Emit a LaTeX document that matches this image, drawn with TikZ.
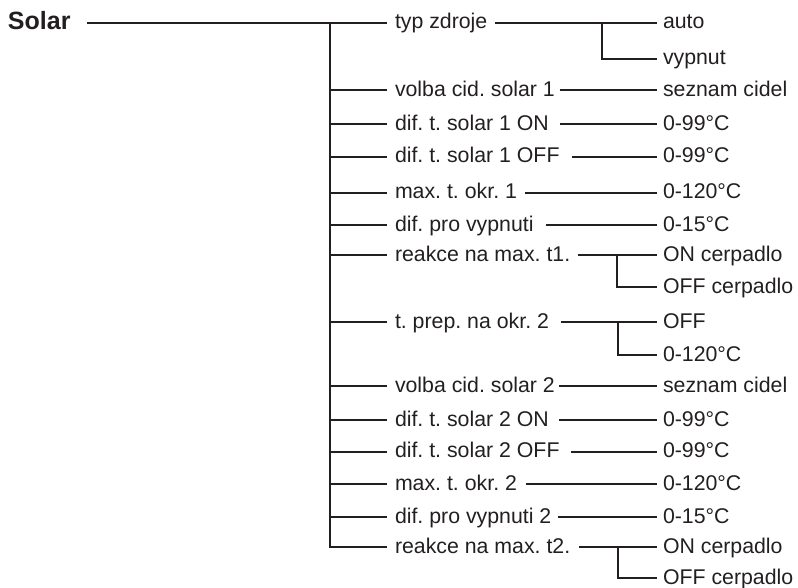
\documentclass[tikz,border=0pt]{standalone}
\usepackage{fontspec}
\setmainfont{Liberation Sans}
\frenchspacing
\definecolor{ink}{HTML}{231F20}
\begin{document}
\frenchspacing
\begin{tikzpicture}[x=1pt,y=-1pt,
  lbl/.style={anchor=west, inner sep=0pt, outer sep=0pt, text height=14.5pt, text depth=2.5pt, font=\fontsize{21.3}{24}\selectfont\frenchspacing, text=ink},
  head/.style={lbl, text height=17pt, text depth=3pt, font=\fontsize{25}{28}\selectfont\bfseries},
  ln/.style={draw=ink, line width=2pt}]
\useasboundingbox (0,0) rectangle (798,588);
% nodes
\node[head] (solar) at (8,23) {Solar};
\node[lbl] (l1)  at (395,23)    {typ zdroje};
\node[lbl] (l2)  at (395,90.5)  {volba cid. solar 1};
\node[lbl] (l3)  at (395,124.5) {dif. t. solar 1 ON};
\node[lbl] (l4)  at (395,157)   {dif. t. solar 1 OFF};
\node[lbl] (l5)  at (395,193)   {max. t. okr. 1};
\node[lbl] (l6)  at (395,225.5) {dif. pro vypnuti};
\node[lbl] (l7)  at (395,255.5) {reakce na max. t1.};
\node[lbl] (l8)  at (395,322)   {t. prep. na okr. 2};
\node[lbl] (l9)  at (395,386)   {volba cid. solar 2};
\node[lbl] (l10) at (395,420)   {dif. t. solar 2 ON};
\node[lbl] (l11) at (395,451.5) {dif. t. solar 2 OFF};
\node[lbl] (l12) at (395,484)   {max. t. okr. 2};
\node[lbl] (l13) at (395,517)   {dif. pro vypnuti 2};
\node[lbl] (l14) at (395,547)   {reakce na max. t2.};
\node[lbl] (v1a)  at (663,23)    {auto};
\node[lbl] (v1b)  at (663,59)    {vypnut};
\node[lbl] (v2)   at (663,90.5)  {seznam cidel};
\node[lbl] (v3)   at (663,124.5) {0-99°C};
\node[lbl] (v4)   at (663,157)   {0-99°C};
\node[lbl] (v5)   at (663,193)   {0-120°C};
\node[lbl] (v6)   at (663,225.5) {0-15°C};
\node[lbl] (v7a)  at (663,255.5) {ON cerpadlo};
\node[lbl] (v7b)  at (663,287)   {OFF cerpadlo};
\node[lbl] (v8a)  at (663,322)   {OFF};
\node[lbl] (v8b)  at (663,355)   {0-120°C};
\node[lbl] (v9)   at (663,386)   {seznam cidel};
\node[lbl] (v10)  at (663,420)   {0-99°C};
\node[lbl] (v11)  at (663,451.5) {0-99°C};
\node[lbl] (v12)  at (663,484)   {0-120°C};
\node[lbl] (v13)  at (663,517)   {0-15°C};
\node[lbl] (v14a) at (663,547)   {ON cerpadlo};
\node[lbl] (v14b) at (663,578)   {OFF cerpadlo};
% trunk
\coordinate (tr) at (330,23);
\draw[ln] ([xshift=16.5pt]solar.east) -- ([xshift=-8pt]l1.west);
\draw[ln] (tr) |- ([xshift=-8pt]l14.west);
\foreach \n in {l2,l3,l4,l5,l6,l7,l8,l9,l10,l11,l12,l13}
  \draw[ln] (tr |- \n.west) -- ([xshift=-8pt]\n.west);
% second level
\draw[ln] ([xshift=8pt]l1.east)    -- ([xshift=-6pt]v1a.west);
\draw[ln] ([xshift=5pt]l2.east)    -- ([xshift=-6pt]v2.west);
\draw[ln] ([xshift=11pt]l3.east)   -- ([xshift=-6pt]v3.west);
\draw[ln] ([xshift=12.5pt]l4.east) -- ([xshift=-6pt]v4.west);
\draw[ln] ([xshift=8pt]l5.east)    -- ([xshift=-6pt]v5.west);
\draw[ln] ([xshift=12.5pt]l6.east) -- ([xshift=-6pt]v6.west);
\draw[ln] ([xshift=8pt]l7.east)    -- ([xshift=-6pt]v7a.west);
\draw[ln] ([xshift=12pt]l8.east)   -- ([xshift=-6pt]v8a.west);
\draw[ln] ([xshift=4pt]l9.east)    -- ([xshift=-6pt]v9.west);
\draw[ln] ([xshift=10pt]l10.east)  -- ([xshift=-6pt]v10.west);
\draw[ln] ([xshift=11.5pt]l11.east)-- ([xshift=-6pt]v11.west);
\draw[ln] ([xshift=9pt]l12.east)   -- ([xshift=-6pt]v12.west);
\draw[ln] ([xshift=7pt]l13.east)   -- ([xshift=-6pt]v13.west);
\draw[ln] ([xshift=9pt]l14.east)   -- ([xshift=-6pt]v14a.west);
% forks
\coordinate (j1)  at ([xshift=-61pt]v1a.west);
\coordinate (j7)  at ([xshift=-46pt]v7a.west);
\coordinate (j8)  at ([xshift=-45pt]v8a.west);
\coordinate (j14) at ([xshift=-45pt]v14a.west);
\draw[ln] (j1)  |- ([xshift=-6pt]v1b.west);
\draw[ln] (j7)  |- ([xshift=-6pt]v7b.west);
\draw[ln] (j8)  |- ([xshift=-6pt]v8b.west);
\draw[ln] (j14) |- ([xshift=-6pt]v14b.west);
\end{tikzpicture}
\end{document}
